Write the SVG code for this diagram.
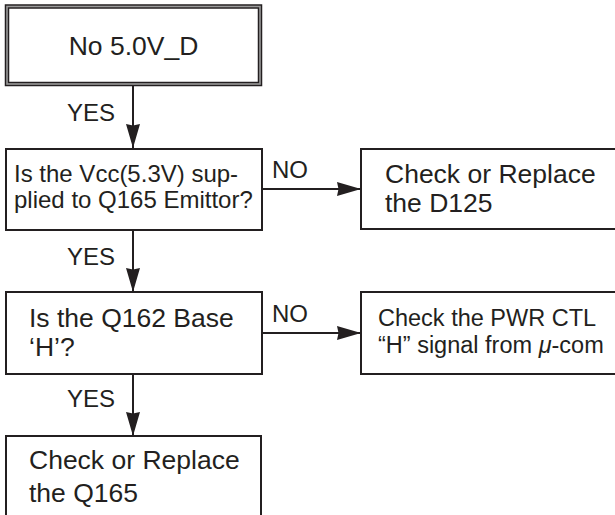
<svg xmlns="http://www.w3.org/2000/svg" width="615" height="515" viewBox="0 0 615 515">
  <defs>
    <marker id="arrow" markerUnits="userSpaceOnUse" markerWidth="24" markerHeight="14" refX="24" refY="7" orient="auto">
      <path d="M0,0 L24,7 L0,14 L1.5,7 z" fill="#231f20"/>
    </marker>
    <style>
      .box { fill: #ffffff; stroke: #231f20; stroke-width: 2; }
      .frame-outer { fill: #ffffff; stroke: #231f20; stroke-width: 4.5; }
      .frame-inner { fill: none; stroke: #9a9a9a; stroke-width: 1.6; }
      .txt { font-family: "Liberation Sans", Arial, Helvetica, sans-serif; fill: #231f20; }
      .lbl { font-family: "Liberation Sans", Arial, Helvetica, sans-serif; fill: #231f20; font-size: 24px; }
      .link { fill: none; stroke: #231f20; stroke-width: 2; marker-end: url(#arrow); }
    </style>
  </defs>
  <rect width="615" height="515" fill="#ffffff"/>

  <!-- connectors -->
  <g id="connectors">
    <line class="link" x1="133" y1="86" x2="133" y2="148"/>
    <line class="link" x1="262" y1="189" x2="361" y2="189"/>
    <line class="link" x1="133" y1="230" x2="133" y2="292"/>
    <line class="link" x1="262" y1="333" x2="361" y2="333"/>
    <line class="link" x1="133" y1="374" x2="133" y2="436"/>
    <text class="lbl" x="67" y="121">YES</text>
    <text class="lbl" x="272" y="178">NO</text>
    <text class="lbl" x="67" y="265">YES</text>
    <text class="lbl" x="272" y="322">NO</text>
    <text class="lbl" x="67" y="407">YES</text>
  </g>

  <!-- start: double-framed box -->
  <g id="start">
    <rect class="frame-outer" x="7" y="6.5" width="253" height="77.5"/>
    <rect class="frame-inner" x="7" y="6.5" width="253" height="77.5"/>
    <text class="txt" x="133.5" y="55" font-size="26.5" text-anchor="middle">No 5.0V_D</text>
  </g>

  <g id="q-vcc">
    <rect class="box" x="6" y="149" width="256" height="81"/>
    <text class="txt" font-size="24">
      <tspan x="14" y="182">Is the Vcc(5.3V) sup-</tspan>
      <tspan x="14" y="208">plied to Q165 Emittor?</tspan>
    </text>
  </g>

  <g id="fix-d125">
    <rect class="box" x="361" y="149" width="260" height="80"/>
    <text class="txt" font-size="26.5">
      <tspan x="385" y="183">Check or Replace</tspan>
      <tspan x="385" y="212">the D125</tspan>
    </text>
  </g>

  <g id="q-base">
    <rect class="box" x="6" y="292" width="256" height="82"/>
    <text class="txt" font-size="26.5">
      <tspan x="29" y="327">Is the Q162 Base</tspan>
      <tspan x="29" y="356">‘H’?</tspan>
    </text>
  </g>

  <g id="check-pwr">
    <rect class="box" x="361" y="292" width="260" height="82"/>
    <text class="txt" font-size="23.5">
      <tspan x="378" y="326">Check the PWR CTL</tspan>
      <tspan x="378" y="353">“H” signal from <tspan font-style="italic">μ</tspan>-com</tspan>
    </text>
  </g>

  <g id="fix-q165">
    <rect class="box" x="6" y="436" width="255" height="90"/>
    <text class="txt" font-size="26.5">
      <tspan x="29" y="469">Check or Replace</tspan>
      <tspan x="29" y="502">the Q165</tspan>
    </text>
  </g>
</svg>
